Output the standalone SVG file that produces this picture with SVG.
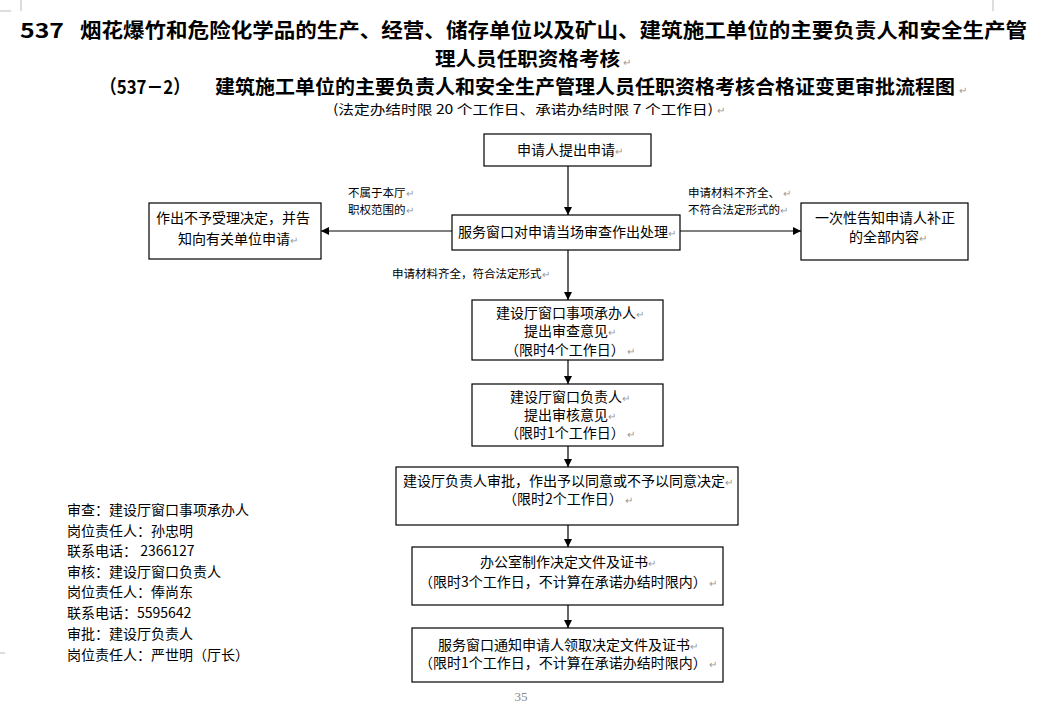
<svg xmlns="http://www.w3.org/2000/svg" width="1043" height="717" viewBox="0 0 1043 717">
<style>
text{font-family:"Noto Sans CJK SC","Noto Sans",sans-serif;fill:#000}
.t{font-size:14px;text-anchor:middle}
.l{font-size:11.5px}
.b{font-size:14px}
.h{font-weight:bold}
.p{fill:#999;font-size:10px}
rect{fill:#fff;stroke:#000;stroke-width:1.2}
.c line{stroke:#000;stroke-width:1.2}
.m{stroke:#bbb;stroke-width:1}
</style>
<defs>
<marker id="ar" viewBox="0 0 10 10" refX="10" refY="5" markerWidth="8" markerHeight="8" markerUnits="userSpaceOnUse" orient="auto"><path d="M0,0 L10,5 L0,10 z" fill="#000"/></marker>
</defs>
<rect width="1043" height="717" style="fill:#fff;stroke:none"/>
<g id="cropmarks">
<line class="m" x1="0" y1="11" x2="11" y2="11"/><line class="m" x1="21" y1="0" x2="21" y2="11"/>
<line class="m" x1="993" y1="0" x2="993" y2="11"/>
<line class="m" x1="0" y1="653" x2="5" y2="653"/>
</g>
<g id="title">
<text class="h" x="20" y="38" font-size="20" textLength="44" lengthAdjust="spacingAndGlyphs">537</text>
<text class="h" x="80" y="38" font-size="20" textLength="947" lengthAdjust="spacingAndGlyphs">烟花爆竹和危险化学品的生产、经营、储存单位以及矿山、建筑施工单位的主要负责人和安全生产管</text>
<text class="h" x="435" y="66" font-size="19.5" textLength="185" lengthAdjust="spacingAndGlyphs">理人员任职资格考核</text>
<text class="p" x="623" y="66">↵</text>
<text class="h" x="100" y="94" font-size="19" textLength="90" lengthAdjust="spacingAndGlyphs">（537－2）</text>
<text class="h" x="215" y="94" font-size="19.5" textLength="740" lengthAdjust="spacingAndGlyphs">建筑施工单位的主要负责人和安全生产管理人员任职资格考核合格证变更审批流程图</text>
<text class="p" x="959" y="94">↵</text>
<text x="333" y="114" font-size="13" textLength="380" lengthAdjust="spacingAndGlyphs">(法定办结时限 20 个工作日、承诺办结时限 7 个工作日)</text>
<text class="p" x="717" y="114">↵</text>
</g>
<g class="c" id="connectors">
<line x1="568" y1="166" x2="568" y2="215" marker-end="url(#ar)"/>
<line x1="452" y1="231" x2="321" y2="231" marker-end="url(#ar)"/>
<line x1="680" y1="231" x2="801" y2="231" marker-end="url(#ar)"/>
<line x1="568" y1="250" x2="568" y2="300" marker-end="url(#ar)"/>
<line x1="568" y1="360" x2="568" y2="384" marker-end="url(#ar)"/>
<line x1="568" y1="446" x2="568" y2="467" marker-end="url(#ar)"/>
<line x1="568" y1="525" x2="568" y2="547" marker-end="url(#ar)"/>
<line x1="568" y1="605" x2="568" y2="628" marker-end="url(#ar)"/>
<text class="l" x="348" y="197">不属于本厅<tspan class="p">↵</tspan></text>
<text class="l" x="348" y="214">职权范围的<tspan class="p">↵</tspan></text>
<text class="l" x="688" y="197">申请材料不齐全、 <tspan class="p">↵</tspan></text>
<text class="l" x="688" y="214">不符合法定形式的<tspan class="p">↵</tspan></text>
<text class="l" x="392" y="278">申请材料齐全，符合法定形式<tspan class="p">↵</tspan></text>
</g>
<g id="n1"><rect x="484" y="134" width="167" height="32"/><text class="t" x="570" y="155">申请人提出申请<tspan class="p">↵</tspan></text></g>
<g id="n2"><rect x="452" y="215" width="228" height="35"/><text class="t" x="567" y="237">服务窗口对申请当场审查作出处理<tspan class="p">↵</tspan></text></g>
<g id="n3"><rect x="149" y="203" width="172" height="56"/><text class="t" x="233" y="223">作出不予受理决定，并告</text><text class="t" x="238" y="244">知向有关单位申请<tspan class="p">↵</tspan></text></g>
<g id="n4"><rect x="801" y="203" width="167" height="57"/><text class="t" x="885" y="223">一次性告知申请人补正</text><text class="t" x="888" y="242">的全部内容<tspan class="p">↵</tspan></text></g>
<g id="n5"><rect x="472" y="300" width="191" height="60"/>
<text class="t" x="570" y="318">建设厅窗口事项承办人<tspan class="p">↵</tspan></text>
<text class="t" x="570" y="336">提出审查意见<tspan class="p">↵</tspan></text>
<text class="t" x="570" y="355">（限时4个工作日）<tspan class="p"> ↵</tspan></text></g>
<g id="n6"><rect x="472" y="384" width="191" height="62"/>
<text class="t" x="570" y="402">建设厅窗口负责人<tspan class="p">↵</tspan></text>
<text class="t" x="570" y="420">提出审核意见<tspan class="p">↵</tspan></text>
<text class="t" x="570" y="438">（限时1个工作日）<tspan class="p"> ↵</tspan></text></g>
<g id="n7"><rect x="396" y="467" width="342" height="58"/>
<text class="t" x="568" y="486">建设厅负责人审批，作出予以同意或不予以同意决定<tspan class="p">↵</tspan></text>
<text class="t" x="568" y="504">（限时2个工作日）<tspan class="p"> ↵</tspan></text></g>
<g id="n8"><rect x="412" y="547" width="311" height="58"/>
<text class="t" x="568" y="567">办公室制作决定文件及证书<tspan class="p">↵</tspan></text>
<text class="t" x="568" y="587">（限时3个工作日，不计算在承诺办结时限内）<tspan class="p"> ↵</tspan></text></g>
<g id="n9"><rect x="412" y="628" width="311" height="54"/>
<text class="t" x="568" y="650">服务窗口通知申请人领取决定文件及证书<tspan class="p">↵</tspan></text>
<text class="t" x="568" y="668">（限时1个工作日，不计算在承诺办结时限内）<tspan class="p"> ↵</tspan></text></g>
<g id="contacts">
<text class="b" x="67" y="515">审查：建设厅窗口事项承办人</text>
<text class="b" x="67" y="536">岗位责任人：孙忠明</text>
<text class="b" x="67" y="556">联系电话： 2366127</text>
<text class="b" x="67" y="577">审核：建设厅窗口负责人</text>
<text class="b" x="67" y="597">岗位责任人：俸尚东</text>
<text class="b" x="67" y="618">联系电话：5595642</text>
<text class="b" x="67" y="639">审批：建设厅负责人</text>
<text class="b" x="67" y="660">岗位责任人：严世明（厅长）</text>
</g>
<text x="521" y="701" font-size="13" text-anchor="middle" style="font-family:'Liberation Serif',serif;fill:#888">35</text>
</svg>
